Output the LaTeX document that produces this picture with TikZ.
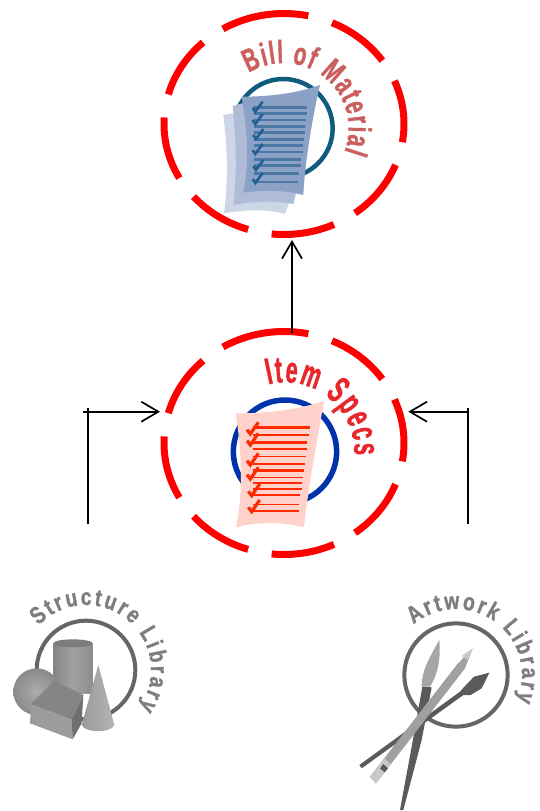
\documentclass[tikz,border=0pt]{standalone}
\usepackage{fontspec}
\usetikzlibrary{arrows.meta,decorations.text}
\newfontfamily\nar[FakeStretch=0.64,FakeBold=1.2]{Liberation Sans}
\newfontfamily\narb[FakeStretch=0.58,FakeBold=1.2]{Liberation Sans}
\newfontfamily\wid[FakeStretch=0.80,FakeBold=1.2]{Liberation Sans}
\definecolor{ringred}{HTML}{FF0000}
\definecolor{bomtext}{HTML}{C9605F}
\definecolor{bomring}{HTML}{0F5C7F}
\definecolor{pageA}{HTML}{CDD6E7}
\definecolor{pageB}{HTML}{AEBCD8}
\definecolor{pageC}{HTML}{8CA1C6}
\definecolor{bomline}{HTML}{4A78A3}
\definecolor{bomcheck}{HTML}{1F5F96}
\definecolor{spectext}{HTML}{E8262B}
\definecolor{specring}{HTML}{0033AA}
\definecolor{specpage}{HTML}{FFD3CC}
\definecolor{specline}{HTML}{FF2A00}
\definecolor{libtext}{HTML}{7E7E7E}
\definecolor{libgrey}{HTML}{666666}
\definecolor{cylL}{HTML}{858585}
\definecolor{cylM}{HTML}{A2A2A2}
\definecolor{cylR}{HTML}{8C8C8C}
\definecolor{cylTop}{HTML}{7C7C7C}
\definecolor{ballIn}{HTML}{ACACAC}
\definecolor{ballOut}{HTML}{8A8A8A}
\definecolor{coneL}{HTML}{9A9A9A}
\definecolor{coneR}{HTML}{B4B4B4}
\definecolor{cubeTop}{HTML}{858585}
\definecolor{cubeFront}{HTML}{9C9C9C}
\definecolor{cubeSide}{HTML}{6F6F6F}
\definecolor{penDark}{HTML}{5A5A5A}
\definecolor{brushHead}{HTML}{A6A6A6}
\definecolor{pencilBody}{HTML}{A0A0A0}
\definecolor{pencilTip}{HTML}{C8C8C8}
\newcommand\bomfont{\nar\bfseries\fontsize{32}{32}\selectfont\color{bomtext}}
\newcommand\specfont{\narb\bfseries\fontsize{37}{37}\selectfont\color{spectext}}
\newcommand\libfont{\wid\bfseries\fontsize{24}{24}\selectfont\color{libtext}}
\newcommand\dashring[4]{%
  \foreach \a/\b in {-120.6/-78.3,-66.4/-35,-23/9.5,21.7/53.7,65.4/95.9,107.4/138.9,150.7/183.4,195.5/227.6}
    \draw[redarc] plot[domain=\a:\b,samples=30] ({#1+#3*cos(\x)},{#2+#4*sin(\x)});}
% arc text: centre x, centre y, radius, start, end, font, text
\newcommand\arctext[7]{%
  \path[decorate,decoration={text along path,text={|#6|#7},text align=fit to path}]
    plot[domain=#4:#5,samples=70] ({#1+#3*cos(\x)},{#2+#3*sin(\x)});}
\tikzset{
  redarc/.style={draw=ringred,line width=7pt},
  conn/.style={draw=black,line width=1.7pt},
  arrowed/.style={conn,-{Straight Barb[length=17pt,width=20pt,line width=1.7pt]}},
  anchorbox/.style={inner sep=0pt,outer sep=0pt,draw=none},
  libring/.style={draw=libgrey,line width=4pt},
}
\begin{document}
\begin{tikzpicture}[x=1pt,y=-1pt]
\useasboundingbox (0,0) rectangle (539,811);

% ---------- Bill of Material
\dashring{284}{124}{120}{110.5}
\begin{scope}[shift={(150,0)},scale=1/3]
  \draw[bomring,line width=4.5pt] (400,385) circle[radius=148];
  \fill[pageA] (220,345) -- (275,335) -- (420,600) -- (405,642) .. controls (340,625) and (280,630) .. (222,640) .. controls (235,540) and (232,440) .. cycle;
  \fill[pageB] (248,318) -- (295,305) -- (440,570) -- (430,612) .. controls (370,600) and (300,605) .. (250,615) .. controls (262,520) and (258,420) .. cycle;
  \fill[pageC] (275,290) .. controls (360,290) and (440,280) .. (510,255) .. controls (490,340) and (465,480) .. (460,585) .. controls (400,570) and (340,570) .. (280,578) .. controls (300,480) and (290,380) .. cycle;
  \foreach \y/\r/\w in {322/470/2.4,341/470/2.4,360/468/2.4,380/466/2.4,398/464/2.4,418/462/2.4,436/460/2.4,456/458/2.4,478/454/2.4,497/452/2.4,520/448/2.4,546/445/2.6}
    \draw[bomline,line width=\w pt] (312,\y) -- (\r,\y);
  \foreach \x/\y in {316/335,316/372,318/417,316/462,318/510,316/549}
    \draw[bomcheck,line width=2.6pt] (\x-8,\y-12) -- (\x,\y) -- (\x+22,\y-30);
  \arctext{400}{385}{196}{-122}{21}{\bomfont}{Bill of Material}
\end{scope}

% ---------- Item Specs
\dashring{284}{443}{120}{111.5}
\begin{scope}[shift={(70,320)},scale=1/3]
  \draw[specring,line width=5.5pt] (645,395) circle[radius=155];
  \fill[specpage] (497,280) .. controls (590,280) and (680,270) .. (762,243) .. controls (740,370) and (715,500) .. (702,622) .. controls (640,605) and (560,605) .. (498,622) .. controls (520,520) and (515,390) .. cycle;
  \foreach \y/\r/\w in {323/720/2.6,345/718/1.4,368/712/2.6,387/710/1.4,410/708/1.6,432/705/1.4,452/702/2.6,472/700/1.4,490/695/2.2,507/695/1.4,525/690/2.2,553/688/1.6,572/688/2.2}
    \draw[specline,line width=\w pt] (548,\y) -- (\r,\y);
  \foreach \x/\y in {541/345,541/378,541/438,541/480,545/530,545/578}
    \draw[specline,line width=3.2pt] (\x-10,\y-16) -- (\x,\y-3) -- (\x+24,\y-38);
  \arctext{645}{395}{208}{-104}{3}{\specfont}{Item Specs}
\end{scope}

% ---------- Structure Library
\begin{scope}[shift={(0,580)},scale=1/3]
  \draw[libring] (258,270) circle[radius=148];
  \shade[left color=cylL,right color=cylR,middle color=cylM] (160,190) -- (278,190) -- (278,340) -- (160,340) -- cycle;
  \fill[cylTop] (219,190) circle[x radius=59,y radius=12];
  \shade[inner color=ballIn,outer color=ballOut] (110,335) circle[radius=70];
  \shade[left color=coneL,right color=coneR] (295,255) -- (343,435) .. controls (335,460) and (255,460) .. (245,435) -- cycle;
  \fill[cubeTop] (93,372) -- (163,302) -- (250,345) -- (215,420) -- cycle;
  \fill[cubeFront] (93,372) -- (215,420) -- (218,478) -- (90,430) -- cycle;
  \fill[cubeSide] (215,420) -- (250,345) -- (245,430) -- (218,478) -- cycle;
  \arctext{258}{270}{195}{-137}{35}{\libfont}{Structure Library}
\end{scope}

% ---------- Artwork Library
\begin{scope}[shift={(350,580)},scale=1/3]
  \draw[libring] (318,285) circle[radius=155];
  \fill[penDark] (28,555) -- (330,335) -- (345,318) -- (372,290) -- (418,278) -- (395,325) -- (362,345) -- (340,345) -- (35,565) -- cycle;
  \fill[brushHead] (268,180) .. controls (272,240) and (265,280) .. (240,320) -- (215,320) .. controls (215,270) and (240,230) .. cycle;
  \fill[penDark] (217,320) -- (245,322) -- (215,480) -- (160,690) -- (150,690) -- (185,500) -- cycle;
  \fill[pencilBody] (368,205) -- (320,255) -- (60,590) -- (78,610) -- (345,265) -- cycle;
  \fill[pencilTip] (368,205) -- (335,228) -- (352,240) -- cycle;
  \fill[pencilTip] (60,590) -- (78,610) -- (122,553) -- (104,535) -- cycle;
  \fill[penDark] (90,565) -- (104,577) -- (114,565) -- (100,552) -- cycle;
  \arctext{318}{285}{198}{-130}{23}{\libfont}{Artwork Library}
\end{scope}

% ---------- Anchors and connectors
\node[anchorbox,minimum width=40pt,minimum height=232pt] (bom) at (292,124) {};
\node[anchorbox,minimum width=248.3pt,minimum height=157.4pt] (itemspecs) at (284.15,411.7) {};
\node[anchorbox,minimum width=60pt,minimum height=12pt] (structlib) at (87.7,530) {};
\node[anchorbox,minimum width=60pt,minimum height=12pt] (artlib) at (468.3,530) {};
\coordinate (ltick) at (87.7,408);
\coordinate (lstub) at (83.3,411.7);
\coordinate (rtick) at (468.3,408);
\coordinate (rstub) at (469,411.7);
\draw[arrowed] (itemspecs.north -| bom.south) -- (bom.south);
\draw[conn] (structlib.north) -- (ltick);
\draw[arrowed] (lstub) -- (itemspecs.west);
\draw[conn] (artlib.north) -- (rtick);
\draw[arrowed] (rstub) -- (itemspecs.east);
\end{tikzpicture}
\end{document}
